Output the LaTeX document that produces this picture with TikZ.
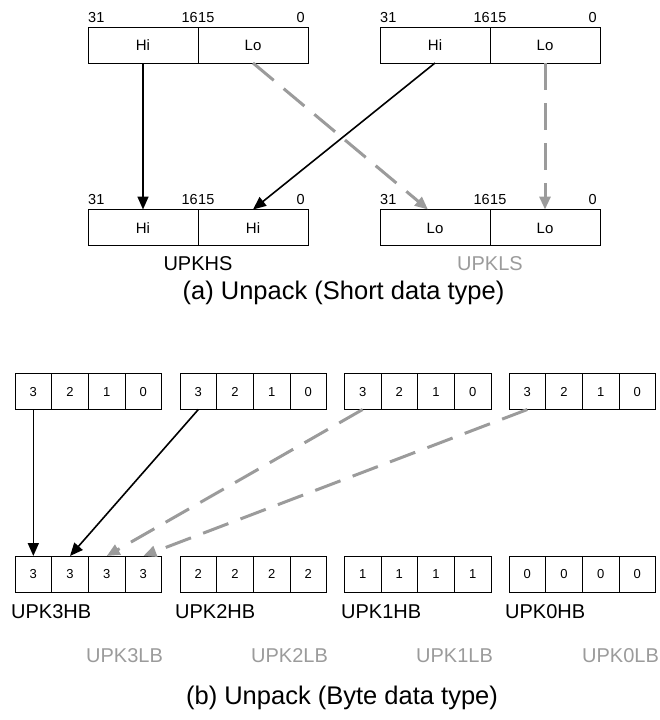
\documentclass[tikz,border=0pt]{standalone}
\usepackage{fontspec}
\setmainfont{Liberation Sans}
\usetikzlibrary{positioning,arrows.meta}
\definecolor{packgray}{HTML}{9B9B9B}

\begin{document}
\begin{tikzpicture}[x=1pt,y=-1pt,>={Stealth[inset=0pt,length=13pt,width=11pt]},
    halfcell/.style={draw,line width=0.9pt,minimum width=110pt,minimum height=36pt,inner sep=0pt,outer sep=0pt,text height=11pt,text depth=0pt,font=\fontsize{15}{17}\selectfont},
    bytecell/.style={draw,line width=0.9pt,minimum width=36.67pt,minimum height=36pt,inner sep=0pt,outer sep=0pt,text height=9.5pt,text depth=0pt,font=\fontsize{13}{15}\selectfont},
    bitno/.style={inner sep=0pt,font=\fontsize{14.5}{16}\selectfont},
    opname/.style={inner sep=0pt,font=\fontsize{20}{24}\selectfont},
    subcap/.style={inner sep=0pt,font=\fontsize{25.5}{29}\selectfont},
    hiarrow/.style={->,line width=1.6pt},
    loarrow/.style={->,line width=3pt,packgray,dash pattern=on 27pt off 13pt}]

    \useasboundingbox (0,0) rectangle (659,720);

    % (a) short data type
    \node[halfcell,anchor=west] (ahi1) at (88,45) {Hi};
    \node[halfcell,right=0pt of ahi1] (alo1) {Lo};
    \node[halfcell,anchor=west] (ahi2) at (380,45) {Hi};
    \node[halfcell,right=0pt of ahi2] (alo2) {Lo};

    \node[halfcell,anchor=west] (hshi) at (88,227.5) {Hi};
    \node[halfcell,right=0pt of hshi] (hslo) {Hi};
    \node[halfcell,anchor=west] (lshi) at (380,227.5) {Lo};
    \node[halfcell,right=0pt of lshi] (lslo) {Lo};

    \node[bitno,anchor=base west,yshift=5pt] (ahi1a) at (ahi1.north west) {31};
    \node[bitno,anchor=base east,yshift=5pt] (ahi1b) at (ahi1.north east) {16};
    \node[bitno,anchor=base west,yshift=5pt] (alo1a) at (alo1.north west) {15};
    \node[bitno,anchor=base east,yshift=5pt,xshift=-3pt] (alo1b) at (alo1.north east) {0};
    \node[bitno,anchor=base west,yshift=5pt] (ahi2a) at (ahi2.north west) {31};
    \node[bitno,anchor=base east,yshift=5pt] (ahi2b) at (ahi2.north east) {16};
    \node[bitno,anchor=base west,yshift=5pt] (alo2a) at (alo2.north west) {15};
    \node[bitno,anchor=base east,yshift=5pt,xshift=-3pt] (alo2b) at (alo2.north east) {0};
    \node[bitno,anchor=base west,yshift=5pt] (hshia) at (hshi.north west) {31};
    \node[bitno,anchor=base east,yshift=5pt] (hshib) at (hshi.north east) {16};
    \node[bitno,anchor=base west,yshift=5pt] (hsloa) at (hslo.north west) {15};
    \node[bitno,anchor=base east,yshift=5pt,xshift=-3pt] (hslob) at (hslo.north east) {0};
    \node[bitno,anchor=base west,yshift=5pt] (lshia) at (lshi.north west) {31};
    \node[bitno,anchor=base east,yshift=5pt] (lshib) at (lshi.north east) {16};
    \node[bitno,anchor=base west,yshift=5pt] (lsloa) at (lslo.north west) {15};
    \node[bitno,anchor=base east,yshift=5pt,xshift=-3pt] (lslob) at (lslo.north east) {0};

    \node[opname] (upkhs) at (198,264) {UPKHS};
    \node[opname,text=packgray] (upkls) at (490,264) {UPKLS};
    \node[subcap] (capa) at (343.5,293) {(a) Unpack (Short data type)};

    \draw[hiarrow] (ahi1.south) -- (hshi.north);
    \draw[hiarrow] (ahi2.south) -- (hslo.north);
    \draw[loarrow] (alo1.south) -- ([xshift=-7pt]lshi.north);
    \draw[loarrow] (alo2.south) -- (lslo.north);

    % (b) byte data type
    \node[bytecell,anchor=west] (wa3) at (15,391.5) {3};
    \node[bytecell,right=0pt of wa3] (wa2) {2};
    \node[bytecell,right=0pt of wa2] (wa1) {1};
    \node[bytecell,right=0pt of wa1] (wa0) {0};
    \node[bytecell,anchor=west] (wb3) at (180,391.5) {3};
    \node[bytecell,right=0pt of wb3] (wb2) {2};
    \node[bytecell,right=0pt of wb2] (wb1) {1};
    \node[bytecell,right=0pt of wb1] (wb0) {0};
    \node[bytecell,anchor=west] (wc3) at (344.3,391.5) {3};
    \node[bytecell,right=0pt of wc3] (wc2) {2};
    \node[bytecell,right=0pt of wc2] (wc1) {1};
    \node[bytecell,right=0pt of wc1] (wc0) {0};
    \node[bytecell,anchor=west] (wd3) at (509,391.5) {3};
    \node[bytecell,right=0pt of wd3] (wd2) {2};
    \node[bytecell,right=0pt of wd2] (wd1) {1};
    \node[bytecell,right=0pt of wd1] (wd0) {0};

    \node[bytecell,anchor=west] (u3a) at (15,574) {3};
    \node[bytecell,right=0pt of u3a] (u3b) {3};
    \node[bytecell,right=0pt of u3b] (u3c) {3};
    \node[bytecell,right=0pt of u3c] (u3d) {3};
    \node[bytecell,anchor=west] (u2a) at (180,574) {2};
    \node[bytecell,right=0pt of u2a] (u2b) {2};
    \node[bytecell,right=0pt of u2b] (u2c) {2};
    \node[bytecell,right=0pt of u2c] (u2d) {2};
    \node[bytecell,anchor=west] (u1a) at (344.3,574) {1};
    \node[bytecell,right=0pt of u1a] (u1b) {1};
    \node[bytecell,right=0pt of u1b] (u1c) {1};
    \node[bytecell,right=0pt of u1c] (u1d) {1};
    \node[bytecell,anchor=west] (u0a) at (509,574) {0};
    \node[bytecell,right=0pt of u0a] (u0b) {0};
    \node[bytecell,right=0pt of u0b] (u0c) {0};
    \node[bytecell,right=0pt of u0c] (u0d) {0};

    \node[opname,anchor=west] (upk3hb) at (11,612) {UPK3HB};
    \node[opname,anchor=west] (upk2hb) at (175,612) {UPK2HB};
    \node[opname,anchor=west] (upk1hb) at (341,612) {UPK1HB};
    \node[opname,anchor=west] (upk0hb) at (505,612) {UPK0HB};
    \node[opname,anchor=west,text=packgray] (upk3lb) at (86,656) {UPK3LB};
    \node[opname,anchor=west,text=packgray] (upk2lb) at (251,656) {UPK2LB};
    \node[opname,anchor=west,text=packgray] (upk1lb) at (416,656) {UPK1LB};
    \node[opname,anchor=west,text=packgray] (upk0lb) at (582,656) {UPK0LB};
    \node[subcap] (capb) at (342,698) {(b) Unpack (Byte data type)};

    \draw[hiarrow] (wa3.south) -- (u3a.north);
    \draw[hiarrow] (wb3.south) -- (u3b.north);
    \draw[loarrow] (wc3.south) -- (u3c.north);
    \draw[loarrow] (wd3.south) -- (u3d.north);
\end{tikzpicture}
\end{document}
